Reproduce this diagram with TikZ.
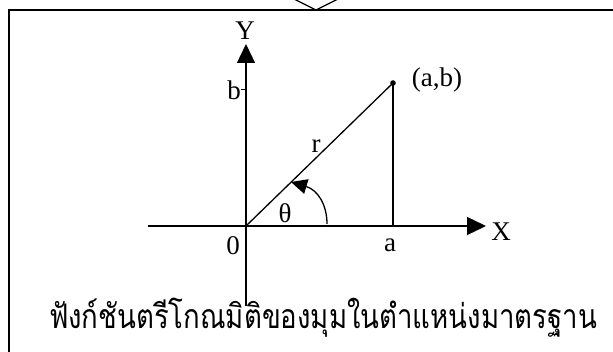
\documentclass[tikz,border=0pt]{standalone}
\usepackage{fontspec}
\setmainfont{Liberation Serif}
\newfontfamily\thaifont[Script=Thai]{Loma}
\usetikzlibrary{arrows.meta}

\begin{document}
\begin{tikzpicture}[x=1pt, y=-1pt, line width=1.3pt,
    lbl/.style={inner sep=0pt, font=\fontsize{27}{30}\selectfont},
    axisarrow/.style={-{Triangle[length=19pt, width=18pt]}},
    anglearrow/.style={-{Triangle[length=16pt, width=15pt]}}]

  \useasboundingbox (0,0) rectangle (613,352);
  \clip (0,0) rectangle (613,352);

  % ───────── Frame (box edge and chevron from above) ─────────
  \draw (9,360) -- (9,10) -- (620,10);
  \draw (290,-3) -- (316,10) -- (342,-3);

  % ───────── Axes ─────────
  \coordinate (O) at (246,226);
  \coordinate (xstart) at (148,226);
  \coordinate (xend) at (486,226);
  \coordinate (ystart) at (246,306);
  \coordinate (yend) at (246,44);
  \draw[axisarrow] (xstart) -- (xend);
  \draw[axisarrow] (ystart) -- (yend);
  \node[lbl] (xlabel) at (501,232) {X};
  \node[lbl] (ylabel) at (245,31) {Y};
  \node[lbl] (zero) at (233,246) {0};

  % ───────── Point (a,b), radius r and its projection ─────────
  \coordinate (P) at (393,83);
  \coordinate (Pfoot) at (393,226);
  \coordinate (btick) at (241,90);
  \coordinate (btickend) at (247,90);
  \draw (O) -- (P);
  \draw (P) -- (Pfoot);
  \draw[line width=1pt] (btick) -- (btickend);
  \fill (P) circle (2.8);
  \node[lbl] (ab) at (437,80) {(a,b)};
  \node[lbl] (blabel) at (234,90) {b};
  \node[lbl] (alabel) at (390,245) {a};
  \node[lbl] (rlabel) at (316,146) {r};

  % ───────── Angle theta ─────────
  \coordinate (arcstart) at (327,224);
  \coordinate (arcend) at (291,182);
  \draw[anglearrow] (arcstart) .. controls (327,205) and (318,190) .. (arcend);
  \node[lbl] (theta) at (285,213) {θ};

  % ───────── Caption ─────────
  \node[inner sep=0pt, anchor=base, font=\thaifont\fontsize{26}{30}\selectfont]
    (caption) at (323,329) {\scalebox{1.06}[1.3]{ฟังก์ชันตรีโกณมิติของมุมในตำแหน่งมาตรฐาน}};

\end{tikzpicture}
\end{document}
